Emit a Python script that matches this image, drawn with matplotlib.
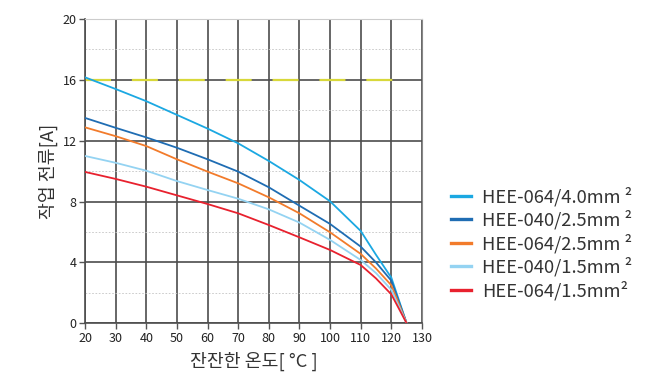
import matplotlib
matplotlib.use("Agg")
import matplotlib.pyplot as plt
from matplotlib.ticker import MultipleLocator

plt.rcParams['font.family'] = ['Noto Sans CJK KR', 'DejaVu Sans']

# Ambient temperature [°C] sample points
temps = [20, 30, 40, 50, 60, 70, 80, 90, 100, 110, 115, 120, 125]

# Working current [A] per cable type
hee064_40 = [16.17, 15.4, 14.6, 13.7, 12.8, 11.83, 10.67, 9.42, 8.02, 6.07, 4.5, 3.0, 0.0]
hee040_25 = [13.5, 12.85, 12.22, 11.54, 10.78, 9.97, 8.94, 7.73, 6.53, 5.04, 4.0, 2.8, 0.0]
hee064_25 = [12.88, 12.3, 11.65, 10.78, 9.97, 9.2, 8.28, 7.23, 5.98, 4.56, 3.6, 2.5, 0.0]
hee040_15 = [11.0, 10.55, 10.03, 9.35, 8.76, 8.19, 7.49, 6.62, 5.48, 4.16, 3.3, 2.2, 0.0]
hee064_15 = [9.95, 9.49, 8.98, 8.41, 7.84, 7.23, 6.46, 5.65, 4.82, 3.83, 2.95, 1.9, 0.0]

series = [
    ("HEE-064/4.0mm ²", hee064_40, "#1ba8e2"),
    ("HEE-040/2.5mm ²", hee040_25, "#1f6db3"),
    ("HEE-064/2.5mm ²", hee064_25, "#f27b2b"),
    ("HEE-040/1.5mm ²", hee040_15, "#94d3f2"),
    ("HEE-064/1.5mm²", hee064_15, "#e8212e"),
]

# Rated current reference level
rated_x = [20, 122.5]
rated_y = [16, 16]

x_ticks = [20, 30, 40, 50, 60, 70, 80, 90, 100, 110, 120, 130]
y_ticks = [0, 4, 8, 12, 16, 20]

fig = plt.figure(figsize=(6.64, 3.74), dpi=100)
ax = fig.add_axes([0.128, 0.1356, 0.5075, 0.8135])

ax.set_xlim(20, 130)
ax.set_ylim(0, 20)
ax.set_xticks(x_ticks)
ax.set_yticks(y_ticks)
ax.yaxis.set_minor_locator(MultipleLocator(2))

# grid: solid dark for majors, dotted light for the minor horizontals
ax.grid(which='major', axis='both', color='#4d4d4d', linewidth=1.2, zorder=0)
ax.grid(which='minor', axis='y', color='#c4c4c4', linewidth=0.6,
        linestyle=(0, (2, 2)), zorder=0)
ax.set_axisbelow(True)

ln, = ax.plot(rated_x, rated_y, color='#d8d83a', linewidth=1.6, zorder=2)
ln.set_dashes((11.7, 9.4))

for label, vals, col in series:
    ax.plot(temps, vals, color=col, linewidth=1.3, label=label, zorder=3)

for side in ('left', 'bottom'):
    ax.spines[side].set_color('#4d4d4d')
    ax.spines[side].set_linewidth(1.2)
ax.spines['right'].set_color('#888888')
ax.spines['top'].set_color('#cccccc')
ax.spines['top'].set_linewidth(0.8)

ax.tick_params(axis='both', which='major', length=4, width=1, color='#555555',
               labelsize=9, labelcolor='#222222', pad=2)
ax.tick_params(axis='y', which='minor', length=0)

ax.set_xlabel("잔잔한 온도[ °C ]", fontsize=13.2, color='#333333', labelpad=5)
ax.set_ylabel("작업 전류[A]", fontsize=13.2, color='#333333', labelpad=3)

leg = fig.legend(loc='center left', bbox_to_anchor=(0.668, 0.349), frameon=False,
                 fontsize=13.2, handlelength=1.1, handletextpad=0.6,
                 labelspacing=0.22, borderaxespad=0)
for h in leg.get_lines():
    h.set_linewidth(2.4)
for t in leg.get_texts():
    t.set_color('#333333')

fig.savefig("out.png", dpi=100)
